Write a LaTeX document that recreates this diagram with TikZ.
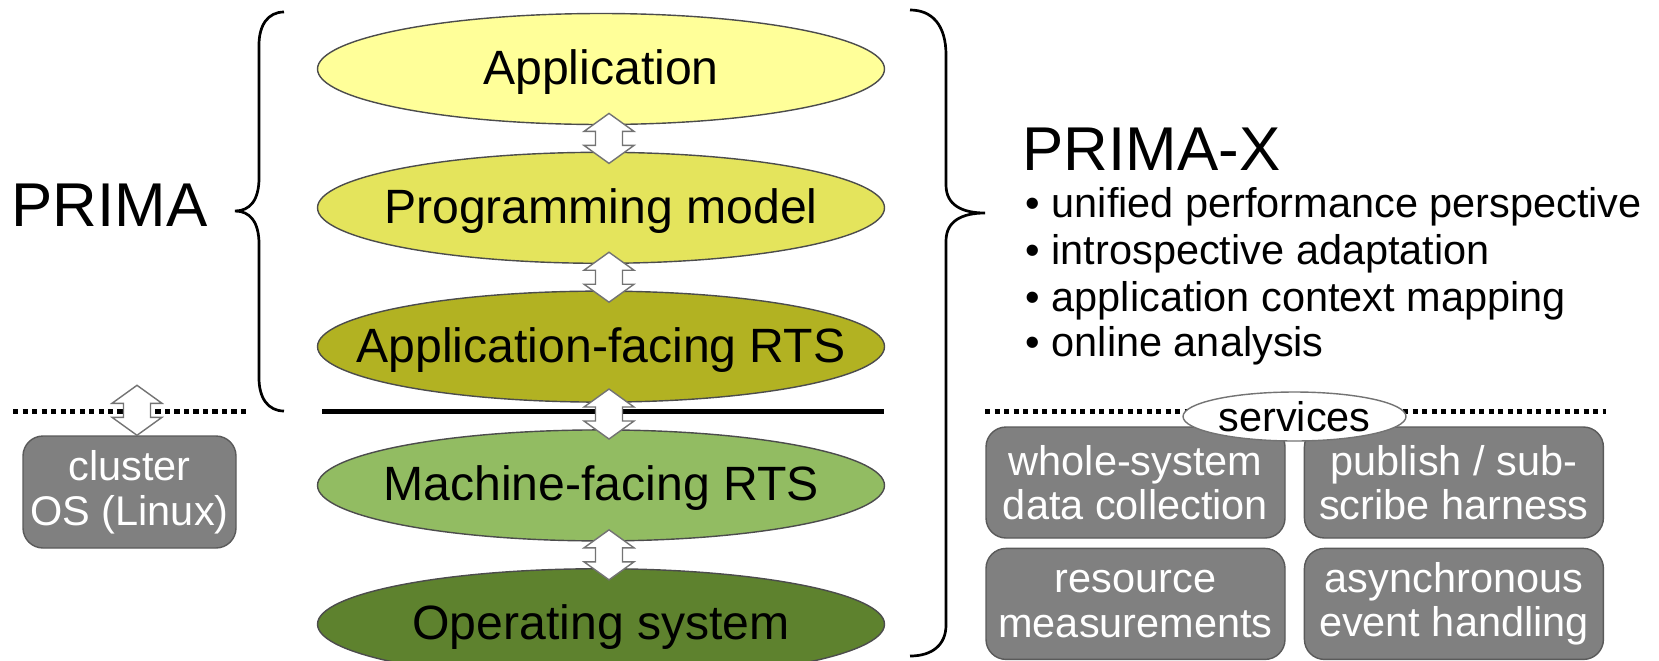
\documentclass[tikz,border=0pt]{standalone}
\usepackage{fontspec}
\setmainfont{Liberation Sans}
\usepackage{tikz}
\usetikzlibrary{positioning,calc,shapes.geometric}
\definecolor{appyellow}{RGB}{255,255,153}
\definecolor{progyellow}{RGB}{228,228,92}
\definecolor{olive}{RGB}{178,178,34}
\definecolor{lightgreen}{RGB}{146,188,98}
\definecolor{darkgreen}{RGB}{94,130,46}
\definecolor{boxgray}{RGB}{128,128,128}
\definecolor{boxedge}{RGB}{90,90,90}
\tikzset{tier node/.style={ellipse,draw=black!70,minimum width=56.7mm,minimum height=11.1mm,inner sep=0pt,
    label={[font=\fontsize{13.7}{16}\selectfont,yshift=-0.3mm]center:#1}},
  service node/.style={rounded corners=2mm,fill=boxgray,draw=boxedge,text=white,align=center,
    minimum width=29.9mm,minimum height=11.1mm,inner sep=0pt,font=\fontsize{11.8}{12.7}\selectfont},
  dblarrow/.style={fill=white,draw=black!55,line width=0.4pt},
  sep line/.style={line width=0.5mm},
  dot line/.style={line width=0.5mm,dash pattern=on 0.53mm off 0.42mm},
  brace line/.style={line width=0.27mm},
  big label/.style={font=\fontsize{17.6}{20}\selectfont,anchor=base west,inner sep=0pt},
  goal/.style={font=\fontsize{11.8}{13}\selectfont,anchor=base west,inner sep=0pt}}
% block arrow pointing up and down, centred at #1
\newcommand{\duplex}[1]{\draw[dblarrow] #1 ++(0,-25) -- ++(25,18) -- ++(-11.5,0) -- ++(0,14) -- ++(11.5,0)
  -- ++(-25,18) -- ++(-25,-18) -- ++(11.5,0) -- ++(0,-14) -- ++(-11.5,0) -- cycle;}

\begin{document}
\begin{tikzpicture}[x=0.1mm,y=-0.1mm]
            \useasboundingbox (0,0) rectangle (1659,660);
            \clip (0,0) rectangle (1659,660);

            % the stack
            \node[tier node=Application, fill=appyellow] (app) at (601,69) {};
            \node[tier node=Programming model, fill=progyellow] (prog) [below=2.64mm of app] {};
            \node[tier node=Application-facing RTS, fill=olive] (appfac) [below=2.64mm of prog] {};
            \node[tier node=Machine-facing RTS, fill=lightgreen] (mach) [below=2.64mm of appfac] {};
            \node[tier node=Operating system, fill=darkgreen] (os) [below=2.64mm of mach] {};

            \draw[sep line] (322,411) -- (884,411);
            \draw[dot line] (13,411) -- (247,411);
            \draw[dot line] (985,411) -- (1606,411);

            \duplex{($(app.south)!.5!(prog.north)+(8,0)$)}
            \duplex{($(prog.south)!.5!(appfac.north)+(8,0)$)}
            \duplex{($(appfac.south)!.5!(mach.north)+(8,-2)$)}
            \duplex{($(mach.south)!.5!(os.north)+(8,0)$)}

            % cluster OS
            \node[service node, minimum width=21.3mm, minimum height=11.2mm] (cluster) at (129.5,492) {cluster\\OS (Linux)};
            \duplex{($(cluster.north)+(7.5,-25)$)}

            % braces
            \draw[brace line] (284,12) .. controls (268,12) and (259,25) .. (259,45) -- (259,178)
              .. controls (259,200) and (250,211) .. (235,211) .. controls (250,211) and (259,222) .. (259,244)
              -- (259,378) .. controls (259,398) and (268,411) .. (284,411);
            \draw[brace line] (910,10) .. controls (932,10) and (946,25) .. (946,55) -- (946,185)
              .. controls (946,205) and (962,213) .. (985,213) .. controls (962,213) and (946,221) .. (946,241)
              -- (946,625) .. controls (946,645) and (932,656) .. (910,656);

            \node[big label] (prima) at (11,226) {PRIMA};
            \node[big label] (primax) at (1022,170) {PRIMA-X};
            \node[goal] (g1) at (1025,217) {• unified performance perspective};
            \node[goal] (g2) at (1025,264) {• introspective adaptation};
            \node[goal] (g3) at (1025,311) {• application context mapping};
            \node[goal] (g4) at (1025,356) {• online analysis};

            % services
            \node[service node] (collect) at (1135.5,482.5) {whole-system\\data collection};
            \node[service node] (pubsub) [right=1.8mm of collect] {publish / sub-\\scribe harness};
            \node[service node] (measure) [below=0.9mm of collect] {resource\\measurements};
            \node[service node] (events) [below=0.9mm of pubsub] {asynchronous\\event handling};
            \node[ellipse, draw=black!55, fill=white, minimum width=22.3mm, minimum height=4.9mm, inner sep=0pt,
              label={[font=\fontsize{11.8}{13}\selectfont]center:services}] (services) at (1294.5,416.5) {};
        \end{tikzpicture}
\end{document}
